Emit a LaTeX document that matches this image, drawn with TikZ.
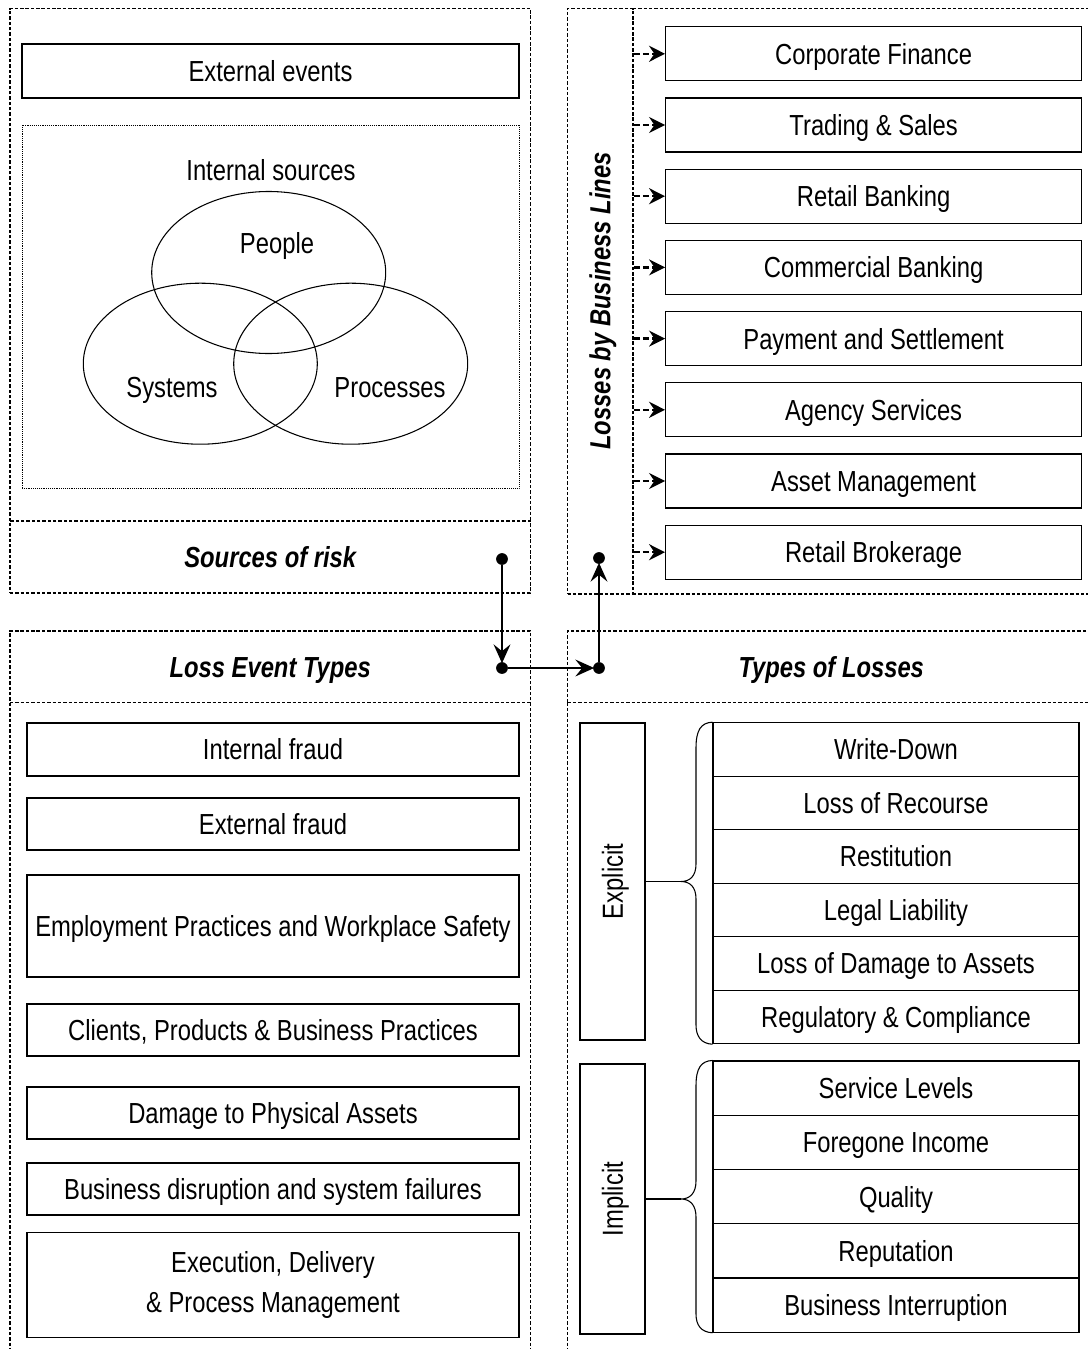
\documentclass[tikz,border=0pt]{standalone}
\usepackage{fontspec}
\setmainfont{Liberation Sans}[FakeStretch=0.82]
\usetikzlibrary{arrows.meta}
\begin{document}
\begin{tikzpicture}[x=0.75pt,y=-0.75pt,
  font=\fontsize{21.75pt}{27pt}\selectfont,
  txt/.style={inner sep=0pt,text height=15.6pt,text depth=0pt},
  box/.style={draw,line width=0.8pt,txt},
  mbox/.style={draw,line width=0.8pt,inner sep=0pt,align=center},
  sz/.style 2 args={minimum width=#1*0.75pt,minimum height=#2*0.75pt},
  panel/.style={draw,line width=0.9pt,dash pattern=on 2.6pt off 1.4pt},
  phead/.style={panel,txt,font=\fontsize{21.75pt}{27pt}\selectfont\bfseries\itshape},
  dotbox/.style={draw,line width=0.6pt,dash pattern=on 0.7pt off 0.7pt},
  dot/.style={circle,fill=black,inner sep=0pt,minimum size=8.8pt},
  flow/.style={line width=2.2pt,-{Stealth[length=14pt,width=12.5pt,inset=5pt]},shorten >=-1pt},
  blarrow/.style={line width=1.7pt,dash pattern=on 4.5pt off 2.5pt,-{Stealth[length=12pt,width=12pt,inset=4pt]}},
  thin/.style={line width=0.8pt}
]
\useasboundingbox (0,0) rectangle (1088,1349);

% ---------------- Sources of risk panel ----------------
\draw[panel] (10,521) -- (10,8.5) -- (530.5,8.5) -- (530.5,521);
\node[phead,sz={520.5}{72}] (srch) at (270.25,557) {Sources of risk};
\node[box,sz={497}{54}] (ext) at (270.5,71) {External events};
\node[dotbox,inner sep=0pt,sz={497}{363}] (intbox) at (270.5,306.5) {};
\node[txt] (intlbl) at (271,170) {Internal sources};
\draw[thin] (268.7,272.5) ellipse [x radius=117, y radius=81];
\draw[thin] (200.3,363.7) ellipse [x radius=117, y radius=80.5];
\draw[thin] (350.7,363.7) ellipse [x radius=117, y radius=80.5];
\node[txt] (people) at (277,243) {People};
\node[txt] (systems) at (172,387) {Systems};
\node[txt] (processes) at (390,387) {Processes};

% ---------------- Business lines panel ----------------
\draw[panel] (633,8.5) -- (1095,8.5);
\draw[panel] (633,594) -- (1095,594);
\node[panel,inner sep=0pt,sz={65.5}{585.5}] (blcol) at (600.25,301.25) {};
\node[rotate=90,txt,font=\fontsize{21.75pt}{27pt}\selectfont\bfseries\itshape] (bltext) at (600,301) {Losses by Business Lines};
\foreach \i/\yy/\t in {1/53.8/Corporate Finance,2/125/Trading \& Sales,3/196.2/Retail Banking,4/267.4/Commercial Banking,5/338.6/Payment and Settlement,6/409.8/Agency Services,7/481/Asset Management,8/552.2/Retail Brokerage}{
  \node[box,sz={416}{54}] (bl\i) at (873.6,\yy) {\t};
  \draw[blarrow] (blcol.east |- bl\i.west) -- (bl\i.west);
}

% ---------------- Loss event types panel ----------------
\node[phead,sz={520.5}{71.5}] (leth) at (270.25,666.75) {Loss Event Types};
\draw[panel] (10,702.5) -- (10,1360);
\draw[panel] (530.5,702.5) -- (530.5,1360);
\node[box,sz={492}{53}] (le1) at (273,749.5) {Internal fraud};
\node[box,sz={492}{52}] (le2) at (273,824) {External fraud};
\node[box,sz={492}{102}] (le3) at (273,926) {Employment Practices and Workplace Safety};
\node[box,sz={492}{52}] (le4) at (273,1030) {Clients, Products \& Business Practices};
\node[box,sz={492}{52}] (le5) at (273,1113) {Damage to Physical Assets};
\node[box,sz={492}{52}] (le6) at (273,1189) {Business disruption and system failures};
\node[mbox,sz={492}{105},font=\fontsize{21.75pt}{30pt}\selectfont] (le7) at (273,1285) {Execution, Delivery\\\& Process Management};

% ---------------- Types of losses panel ----------------
\node[phead,sz={527.5}{71.5}] (tolh) at (831.25,666.75) {Types of Losses};
\draw[panel] (567.5,702.5) -- (567.5,1360);

\node[draw,line width=0.8pt,inner sep=0pt,sz={65}{317}] (expl) at (612.5,881.5) {};
\node[rotate=90,txt] (expltxt) at (612.5,881.5) {Explicit};
\node[draw,line width=0.8pt,inner sep=0pt,sz={65}{270}] (impl) at (612.5,1199) {};
\node[rotate=90,txt] (impltxt) at (612.5,1199) {Implicit};

\foreach \i/\yy/\t in {1/749.45/Write-Down,2/802.95/Loss of Recourse,3/856.45/Restitution,4/909.95/Legal Liability,5/963.45/Loss of Damage to Assets,6/1016.95/Regulatory \& Compliance}{
  \node[box,sz={366}{53.5}] (ex\i) at (896,\yy) {\t};
}
\foreach \i/\yy/\t in {1/1088.1/Service Levels,2/1142.4/Foregone Income,3/1196.6/Quality,4/1250.9/Reputation,5/1305.1/Business Interruption}{
  \node[box,sz={366}{54.25}] (im\i) at (896,\yy) {\t};
}

% braces
\coordinate (etip) at (681,881.5);
\coordinate (itip) at (681,1199);
\draw[thin] (ex1.north west) .. controls (701,722.7) and (696,730) .. (696,748) -- (696,864)
  .. controls (696,876) and (690,881.5) .. (etip)
  .. controls (690,881.5) and (696,887) .. (696,899) -- (696,1025)
  .. controls (696,1036) and (701,1043.7) .. (ex6.south west);
\draw[thin] (expl.east) -- (etip);
\draw[thin] (im1.north west) .. controls (701,1061) and (696,1068) .. (696,1086) -- (696,1181)
  .. controls (696,1193) and (690,1199) .. (itip)
  .. controls (690,1199) and (696,1205) .. (696,1217) -- (696,1314)
  .. controls (696,1325) and (701,1332.2) .. (im5.south west);
\draw[thin] (impl.east) -- (itip);

% ---------------- central flow ----------------
\node[dot] (s1) at (502,559) {};
\node[dot] (l1) at (502,668) {};
\node[dot] (t1) at (599,668) {};
\node[dot] (b1) at (599,558) {};
\draw[flow] (s1) -- (l1);
\draw[flow] (l1) -- (t1);
\draw[flow] (t1) -- (b1);
\end{tikzpicture}
\end{document}
